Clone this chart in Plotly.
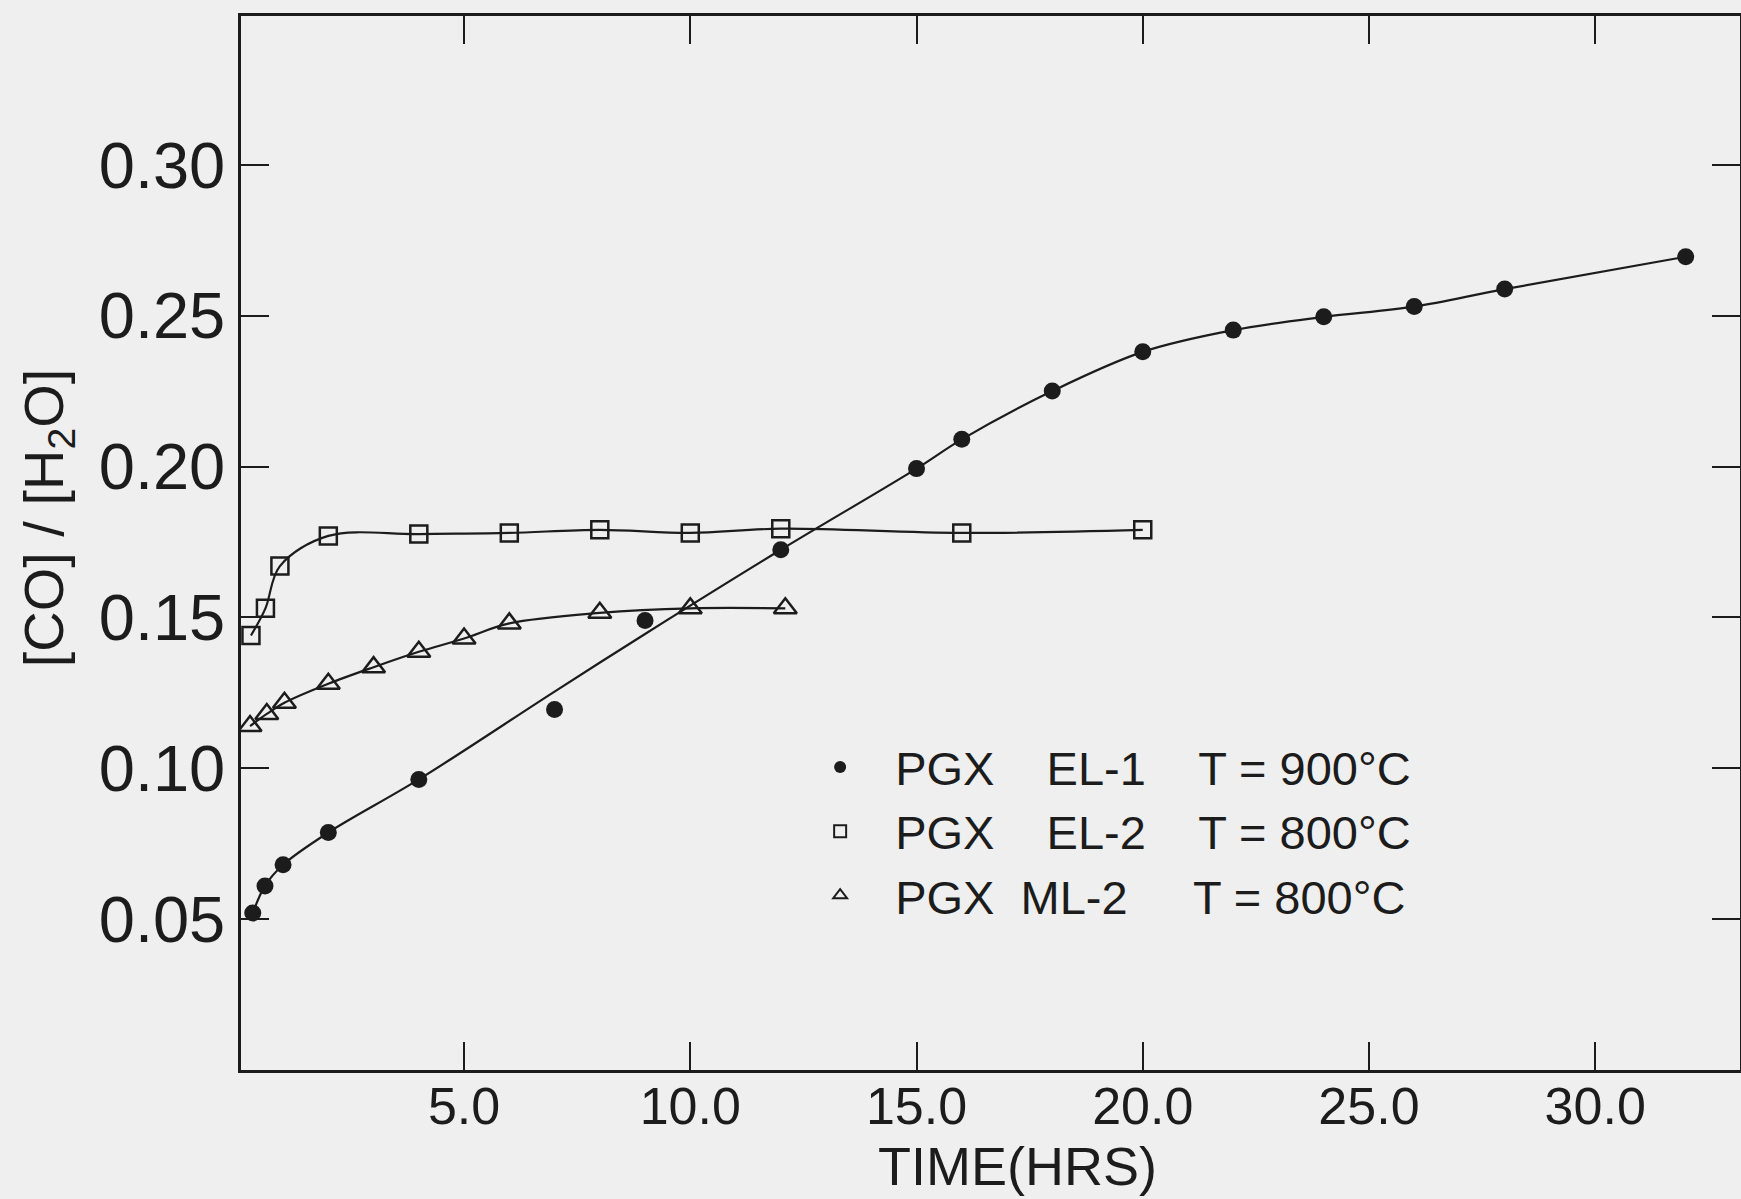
import plotly.graph_objects as go

# PGX EL-1, T=900°C (filled circles)
el1_t = [0.33, 0.6, 1.0, 2.0, 4.0, 7.0, 9.0, 12.0, 15.0, 16.0, 18.0, 20.0, 22.0, 24.0, 26.0, 28.0, 32.0]
el1_r = [0.052, 0.061, 0.068, 0.0787, 0.0963, 0.1195, 0.149, 0.1724, 0.1993, 0.209, 0.225, 0.238, 0.2452, 0.2496, 0.253, 0.2588, 0.2695]
# smooth curve drawn through EL-1
el1_fit_t = [0.33, 0.6, 1.0, 2.0, 4.0, 7.0, 9.0, 12.0, 15.0, 16.0, 18.0, 20.0, 22.0, 24.0, 26.0, 28.0, 32.0]
el1_fit_r = [0.052, 0.061, 0.068, 0.0787, 0.0963, 0.1254, 0.1445, 0.1724, 0.1993, 0.209, 0.225, 0.238, 0.2452, 0.2496, 0.253, 0.2588, 0.2695]

# PGX EL-2, T=800°C (open squares)
el2_t = [0.29, 0.61, 0.93, 2.0, 4.0, 6.0, 8.0, 10.0, 12.0, 16.0, 20.0]
el2_r = [0.144, 0.153, 0.167, 0.177, 0.1776, 0.178, 0.179, 0.178, 0.1794, 0.178, 0.179]

# PGX ML-2, T=800°C (open triangles)
ml2_t = [0.27, 0.64, 1.03, 2.0, 3.0, 4.0, 5.0, 6.0, 8.0, 10.0, 12.1]
ml2_r = [0.114, 0.118, 0.1217, 0.128, 0.1335, 0.1386, 0.143, 0.148, 0.1515, 0.153, 0.153]

x_ticks = [5, 10, 15, 20, 25, 30]
x_labels = ["5.0", "10.0", "15.0", "20.0", "25.0", "30.0"]
y_ticks = [0.05, 0.10, 0.15, 0.20, 0.25, 0.30]
y_labels = ["0.05", "0.10", "0.15", "0.20", "0.25", "0.30"]

S = "\u00a0"
names = [f"PGX{S*4}EL-1{S*4}T = 900°C",
         f"PGX{S*4}EL-2{S*4}T = 800°C",
         f"PGX{S*2}ML-2{S*5}T = 800°C"]

INK = "#1c1c1c"
BG = "#efefef"
FONT = "Liberation Sans"

fig = go.Figure()

# curves
for xs, ys in [(el1_fit_t, el1_fit_r), (el2_t, el2_r), (ml2_t, ml2_r)]:
    fig.add_trace(go.Scatter(x=xs, y=ys, mode="lines", showlegend=False,
                             line=dict(color=INK, width=2.2, shape="spline", smoothing=1.0),
                             hoverinfo="skip"))

# markers
fig.add_trace(go.Scatter(x=el1_t, y=el1_r, mode="markers", name=names[0],
                         marker=dict(symbol="circle", size=17, color=INK, line=dict(width=0))))
fig.add_trace(go.Scatter(x=el2_t, y=el2_r, mode="markers", name=names[1],
                         marker=dict(symbol="square-open", size=17, color=INK, line=dict(width=2.5))))
fig.add_trace(go.Scatter(x=ml2_t, y=ml2_r, mode="markers", name=names[2],
                         marker=dict(symbol="triangle-up-open", size=20, color=INK, line=dict(width=2.5))))

fig.update_layout(
    width=1741, height=1199,
    paper_bgcolor=BG, plot_bgcolor=BG,
    margin=dict(l=241, r=1, t=16, b=129, autoexpand=False),
    font=dict(family=FONT, color=INK),
    showlegend=True,
    legend=dict(x=0.363, y=0.3226, xanchor="left", yanchor="top",
                bgcolor="rgba(0,0,0,0)", font=dict(size=47, family=FONT, color=INK),
                itemsizing="constant", itemwidth=100, tracegroupgap=0),
    annotations=[
        dict(text="TIME(HRS)", xref="paper", yref="paper", x=0.518, y=-0.0911,
             xanchor="center", yanchor="middle", showarrow=False,
             font=dict(size=54, family=FONT, color=INK)),
        dict(text="[CO] / [H<sub>2</sub>O]", xref="paper", yref="paper", x=-0.129, y=0.524,
             xanchor="center", yanchor="middle", showarrow=False, textangle=-90,
             font=dict(size=56, family=FONT, color=INK)),
    ],
)
fig.update_xaxes(
    range=[0.07, 33.2], tickmode="array", tickvals=x_ticks, ticktext=x_labels,
    ticks="inside", ticklen=28, tickwidth=2, tickcolor=INK,
    showline=True, linecolor=INK, linewidth=2.5, mirror="ticks",
    showgrid=False, zeroline=False, automargin=False, ticklabelstandoff=-11,
    tickfont=dict(size=52, family=FONT, color=INK),
)
fig.update_yaxes(
    range=[0, 0.3493], tickmode="array", tickvals=y_ticks, ticktext=y_labels,
    ticks="inside", ticklen=28, tickwidth=2, tickcolor=INK,
    showline=True, linecolor=INK, linewidth=2.5, mirror="ticks",
    showgrid=False, zeroline=False, automargin=False,
    tickfont=dict(size=65, family=FONT, color=INK),
)

fig.write_html("out.html", config={"displayModeBar": False},
               post_script="document.body.style.margin='0';document.body.style.overflow='hidden';")
